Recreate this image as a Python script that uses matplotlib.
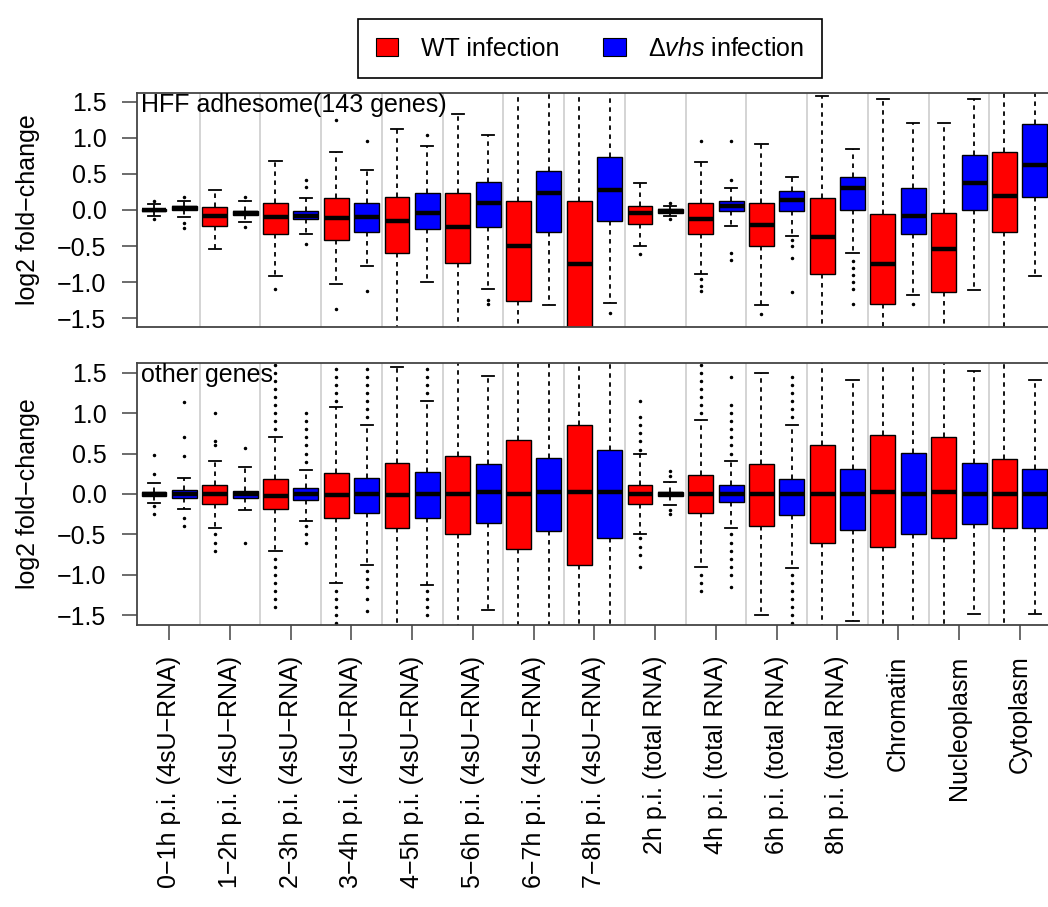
import numpy as np
import matplotlib.pyplot as plt
from matplotlib.patches import Patch

plt.rcParams['font.family'] = ['Liberation Sans', 'DejaVu Sans']
plt.rcParams['mathtext.fontset'] = 'custom'
plt.rcParams['mathtext.rm'] = 'Liberation Sans'
plt.rcParams['mathtext.it'] = 'Liberation Sans:italic'

# category names (x axis)
groups = ['0\u22121h p.i. (4sU\u2212RNA)', '1\u22122h p.i. (4sU\u2212RNA)',
          '2\u22123h p.i. (4sU\u2212RNA)', '3\u22124h p.i. (4sU\u2212RNA)',
          '4\u22125h p.i. (4sU\u2212RNA)', '5\u22126h p.i. (4sU\u2212RNA)',
          '6\u22127h p.i. (4sU\u2212RNA)', '7\u22128h p.i. (4sU\u2212RNA)',
          '2h p.i. (total RNA)', '4h p.i. (total RNA)', '6h p.i. (total RNA)',
          '8h p.i. (total RNA)', 'Chromatin', 'Nucleoplasm', 'Cytoplasm']

# box stats per category: (whisker low, q1, median, q3, whisker high)
# HFF adhesome, WT infection
adh_wt = [(-0.08, -0.02, 0.00, 0.02, 0.08), (-0.54, -0.22, -0.08, 0.04, 0.27),
          (-0.92, -0.33, -0.10, 0.09, 0.68), (-1.02, -0.41, -0.11, 0.17, 0.80),
          (-2.00, -0.60, -0.15, 0.18, 1.12), (-2.00, -0.74, -0.24, 0.23, 1.33),
          (-2.00, -1.26, -0.50, 0.12, 2.00), (-2.20, -1.70, -0.75, 0.12, 2.00),
          (-0.50, -0.19, -0.04, 0.05, 0.37), (-0.88, -0.33, -0.12, 0.09, 0.67),
          (-1.32, -0.50, -0.21, 0.10, 0.92), (-2.00, -0.88, -0.37, 0.17, 1.58),
          (-2.00, -1.30, -0.75, -0.05, 1.54), (-2.00, -1.13, -0.54, -0.04, 1.21),
          (-2.00, -0.30, 0.20, 0.80, 2.00)]
adh_wt_out = [[0.12, -0.12], [], [-1.10], [1.25, -1.37], [], [], [], [],
              [-0.61], [0.96, -0.95, -1.05, -1.12], [-1.44], [], [], [], []]

# HFF adhesome, delta-vhs infection
adh_dv = [(-0.10, 0.00, 0.03, 0.05, 0.12), (-0.17, -0.07, -0.04, -0.01, 0.12),
          (-0.33, -0.13, -0.08, -0.02, 0.17), (-0.78, -0.30, -0.10, 0.09, 0.55),
          (-1.00, -0.26, -0.04, 0.24, 0.88), (-1.10, -0.23, 0.10, 0.39, 1.04),
          (-1.31, -0.30, 0.23, 0.54, 2.00), (-1.29, -0.15, 0.27, 0.73, 2.00),
          (-0.09, -0.04, -0.02, 0.01, 0.06), (-0.22, -0.01, 0.06, 0.13, 0.31),
          (-0.36, -0.01, 0.14, 0.26, 0.46), (-0.60, 0.00, 0.30, 0.45, 0.84),
          (-1.18, -0.33, -0.09, 0.30, 1.20), (-1.11, 0.00, 0.37, 0.76, 1.53),
          (-0.91, 0.18, 0.62, 1.19, 2.00)]
adh_dv_out = [[0.18, -0.18, -0.25], [0.18, -0.23], [0.32, 0.42, -0.47],
              [0.95, -1.12], [1.04], [-1.25, -1.30], [], [-1.42],
              [0.10, -0.12], [0.41, 0.96, -0.60, -0.69],
              [-0.42, -0.50, -0.66, -1.14],
              [-0.70, -0.80, -0.90, -1.00, -1.10, -1.30], [-1.30], [], []]

# other genes, WT infection
oth_wt = [(-0.11, -0.02, 0.00, 0.02, 0.135), (-0.42, -0.12, 0.00, 0.11, 0.41),
          (-0.70, -0.18, -0.02, 0.18, 0.71), (-1.10, -0.30, -0.01, 0.26, 1.07),
          (-2.00, -0.42, -0.01, 0.38, 1.57), (-2.00, -0.50, 0.00, 0.47, 2.00),
          (-2.00, -0.68, 0.00, 0.67, 2.00), (-2.00, -0.88, 0.02, 0.85, 2.00),
          (-0.50, -0.12, 0.00, 0.11, 0.49), (-0.90, -0.23, 0.00, 0.23, 0.91),
          (-1.49, -0.39, 0.00, 0.37, 1.50), (-2.00, -0.60, 0.00, 0.60, 2.00),
          (-2.00, -0.66, 0.03, 0.73, 2.00), (-2.00, -0.55, 0.02, 0.70, 2.00),
          (-2.00, -0.42, 0.00, 0.43, 2.00)]
oth_wt_out = [[0.25, 0.48, -0.15, -0.25],
              [0.60, 0.65, 1.00, -0.50, -0.60, -0.70],
              [0.80, 0.90, 1.00, 1.10, 1.20, 1.30, 1.40, 1.50, 1.60,
               -0.80, -0.90, -1.00, -1.10, -1.20, -1.30, -1.40],
              [1.15, 1.25, 1.35, 1.45, 1.55, -1.20, -1.30, -1.40, -1.50, -1.60],
              [], [], [], [],
              [0.55, 0.65, 0.75, 0.85, 0.95, 1.15, -0.55, -0.65, -0.75, -0.90],
              [1.00, 1.10, 1.20, 1.30, 1.40, 1.50, 1.60, -1.00, -1.10, -1.20],
              [], [], [], [], []]

# other genes, delta-vhs infection
oth_dv = [(-0.18, -0.05, 0.00, 0.05, 0.20), (-0.20, -0.05, 0.00, 0.04, 0.34),
          (-0.33, -0.08, 0.00, 0.07, 0.30), (-0.88, -0.24, 0.00, 0.20, 0.85),
          (-1.13, -0.30, 0.00, 0.27, 1.15), (-1.44, -0.36, 0.02, 0.37, 1.46),
          (-2.00, -0.46, 0.03, 0.45, 2.00), (-2.00, -0.55, 0.02, 0.55, 2.00),
          (-0.13, -0.02, 0.00, 0.02, 0.15), (-0.42, -0.10, 0.00, 0.11, 0.41),
          (-0.91, -0.26, 0.00, 0.18, 0.85), (-1.57, -0.45, 0.00, 0.31, 1.41),
          (-2.00, -0.49, 0.00, 0.51, 2.00), (-1.48, -0.37, 0.00, 0.38, 1.52),
          (-1.48, -0.42, 0.00, 0.31, 1.41)]
oth_dv_out = [[0.47, 0.71, 1.14, -0.30, -0.40], [0.57, -0.60],
              [0.40, 0.50, 0.60, 0.70, 0.80, 0.90, 1.00, -0.40, -0.50, -0.60],
              [0.95, 1.05, 1.15, 1.25, 1.35, 1.45, 1.55,
               -0.95, -1.05, -1.15, -1.30, -1.45],
              [1.25, 1.35, 1.45, 1.55, -1.20, -1.30, -1.40, -1.50],
              [], [], [],
              [0.22, 0.28, -0.20, -0.25],
              [0.50, 0.60, 0.70, 0.80, 0.90, 1.00, 1.10, 1.45,
               -0.50, -0.60, -0.70, -0.80, -0.90, -1.00, -1.15],
              [0.95, 1.05, 1.15, 1.25, 1.35, 1.45,
               -1.00, -1.10, -1.20, -1.30, -1.40, -1.50, -1.60],
              [], [], [], []]

yticks = [-1.5, -1.0, -0.5, 0.0, 0.5, 1.0, 1.5]
red = '#ff0000'
blue = '#0000ff'
fs = 18


def draw_panel(ax, wt, wt_out, dv, dv_out, title):
    x = np.arange(len(groups))
    for vals, outs, off, col in [(wt, wt_out, -0.25, red), (dv, dv_out, 0.25, blue)]:
        stats = [dict(whislo=v[0], q1=v[1], med=v[2], q3=v[3], whishi=v[4], fliers=o)
                 for v, o in zip(vals, outs)]
        ax.bxp(stats, positions=x + off, widths=0.41, capwidths=0.2,
               patch_artist=True, manage_ticks=False,
               boxprops=dict(facecolor=col, edgecolor='black', linewidth=1),
               medianprops=dict(color='black', linewidth=3.2),
               whiskerprops=dict(color='black', linewidth=1.3, linestyle=(0, (2.5, 2.5))),
               capprops=dict(color='black', linewidth=1.3),
               flierprops=dict(marker='.', markersize=3, markerfacecolor='black',
                               markeredgecolor='black', linestyle='none'))
    for s in x[:-1] + 0.5:
        ax.axvline(s, color='#d4d4d4', linewidth=1.4, zorder=0)
    ax.set_xlim(-0.53, 14.6)
    ax.set_ylim(-1.62, 1.62)
    ax.set_yticks(yticks)
    ax.set_yticklabels([('%.1f' % t).replace('-', '\u2212') for t in yticks])
    ax.tick_params(axis='both', direction='out', length=11, width=1.1, pad=11,
                   labelsize=fs, color='#444444')
    for sp in ax.spines.values():
        sp.set_color('#444444')
        sp.set_linewidth(1.3)
    ax.text(0.004, 1.0, title, transform=ax.transAxes, ha='left', va='top', fontsize=fs)


fig = plt.figure(figsize=(10.48, 9.07), dpi=100)
ax_top = fig.add_axes([0.1307, 0.6395, 0.877, 0.258])
ax_bot = fig.add_axes([0.1307, 0.3109, 0.877, 0.2889])

draw_panel(ax_top, adh_wt, adh_wt_out, adh_dv, adh_dv_out, 'HFF adhesome(143 genes)')
draw_panel(ax_bot, oth_wt, oth_wt_out, oth_dv, oth_dv_out, 'other genes')

ax_top.set_xticks([])
ax_bot.set_xticks(np.arange(len(groups)))
ax_bot.set_xticklabels(groups, rotation=90, fontsize=fs)

for ax in (ax_top, ax_bot):
    pos = ax.get_position()
    fig.text(0.027, pos.y0 + pos.height / 2, 'log2 fold\u2212change', rotation=90,
             ha='center', va='center', fontsize=fs)

handles = [Patch(facecolor=red, edgecolor='black', linewidth=0.8),
           Patch(facecolor=blue, edgecolor='black', linewidth=0.8)]
leg = fig.legend(handles, ['WT infection', r'$\Delta\mathit{vhs}$ infection'],
                 loc='center', bbox_to_anchor=(590 / 1048, 1 - 48.5 / 907), ncol=2,
                 fontsize=fs, fancybox=False, edgecolor='black', framealpha=1,
                 handlelength=0.9, handleheight=0.7, handletextpad=0.9,
                 columnspacing=1.75, borderpad=0.7)
leg.get_frame().set_linewidth(1.2)

fig.savefig('out.png', dpi=100)
